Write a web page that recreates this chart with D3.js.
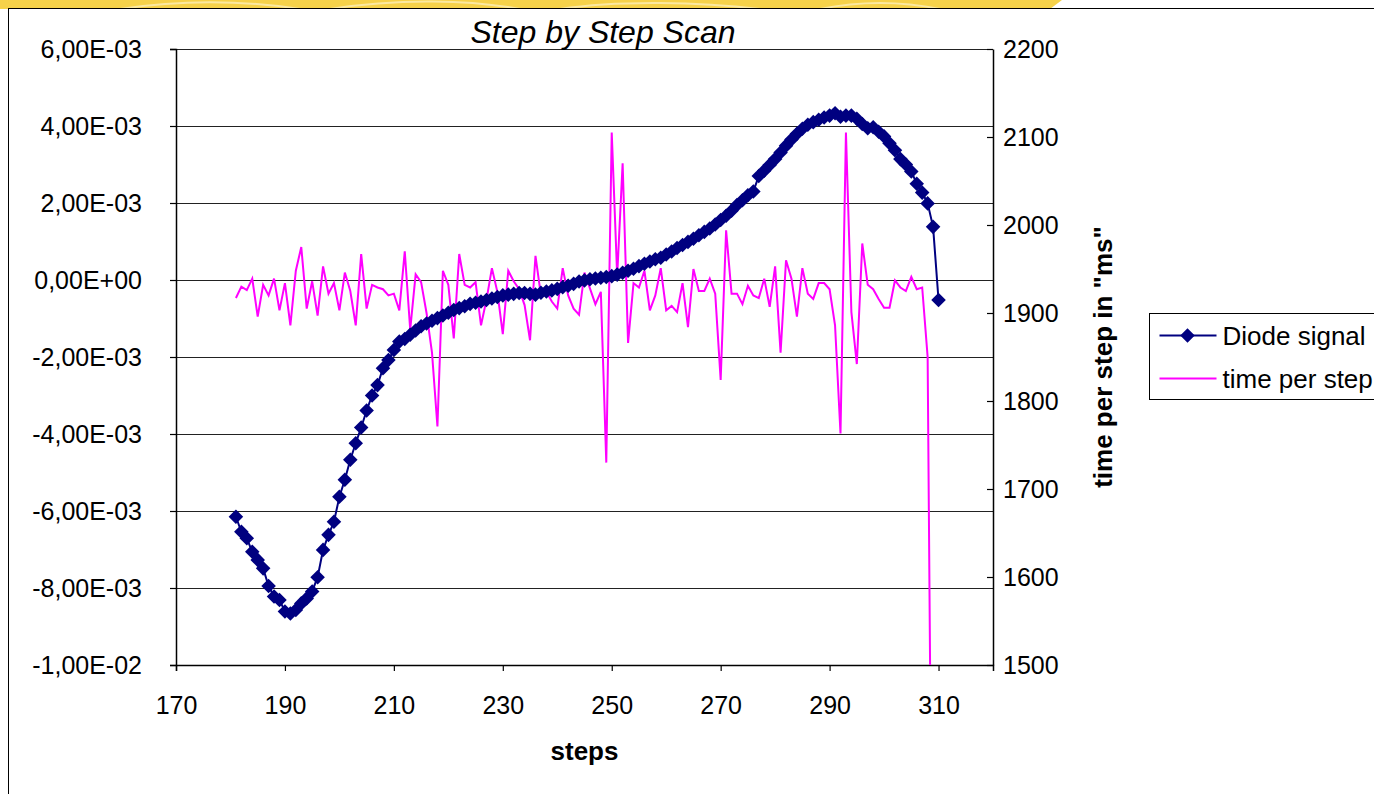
<!DOCTYPE html>
<html>
<head>
<meta charset="utf-8">
<script src="https://cdn.jsdelivr.net/npm/d3@7/dist/d3.min.js"></script>
<style>
  body { margin: 0; background: #fff; overflow: hidden; }
  text { font-family: Arial, "Liberation Sans", sans-serif; fill: #000; }
</style>
</head>
<body>
<div id="chart"></div>
<script>
// steps on the x axis
const steps = d3.range(181, 311);

// Diode signal, in units of 1E-03 (left axis)
const diodeSignal = [
  -6.15, -6.54, -6.71, -7.06, -7.27, -7.49, -7.95, -8.22, -8.31, -8.61,
  -8.66, -8.57, -8.40, -8.27, -8.09, -7.72, -7.01, -6.62, -6.28, -5.63,
  -5.19, -4.67, -4.24, -3.83, -3.39, -3.00, -2.73, -2.29, -2.08, -1.82,
  -1.60, -1.53, -1.42, -1.31, -1.20, -1.13, -1.06, -0.99, -0.92, -0.85,
  -0.78, -0.73, -0.68, -0.62, -0.59, -0.56, -0.52, -0.48, -0.44, -0.40,
  -0.38, -0.36, -0.34, -0.34, -0.36, -0.38, -0.33, -0.30, -0.27, -0.23,
  -0.19, -0.15, -0.10, -0.04, -0.01, 0.02, 0.04, 0.06, 0.08, 0.10,
  0.14, 0.19, 0.24, 0.29, 0.36, 0.42, 0.48, 0.54, 0.58, 0.66,
  0.74, 0.83, 0.91, 0.99, 1.07, 1.16, 1.25, 1.34, 1.44, 1.56,
  1.67, 1.80, 1.95, 2.07, 2.20, 2.30, 2.70, 2.84, 2.99, 3.14,
  3.31, 3.49, 3.65, 3.80, 3.93, 4.03, 4.10, 4.16, 4.22, 4.27,
  4.33, 4.24, 4.27, 4.27, 4.19, 4.05, 3.94, 3.97, 3.85, 3.73,
  3.55, 3.37, 3.14, 3.00, 2.82, 2.50, 2.27, 1.99, 1.38, -0.52
];
const diodeUnit = 1e-3;

// time per step in ms (right axis), steps 181..309
const timePerStep = [
  1917, 1930, 1926, 1939, 1896, 1932, 1920, 1939, 1903, 1934,
  1886, 1948, 1975, 1905, 1936, 1897, 1953, 1922, 1934, 1903,
  1946, 1925, 1886, 1967, 1905, 1932, 1929, 1927, 1920, 1922,
  1903, 1970, 1881, 1944, 1935, 1900, 1855, 1771, 1948, 1932,
  1871, 1967, 1932, 1929, 1935, 1886, 1915, 1951, 1924, 1876,
  1948, 1936, 1927, 1909, 1869, 1965, 1920, 1924, 1913, 1905,
  1951, 1920, 1905, 1898, 1946, 1928, 1910, 1924, 1730, 2105,
  1942, 2070, 1866, 1934, 1929, 1948, 1903, 1920, 1951, 1903,
  1908, 1901, 1934, 1884, 1950, 1925, 1925, 1939, 1922, 1824,
  1994, 1922, 1922, 1910, 1931, 1920, 1917, 1939, 1907, 1953,
  1855, 1960, 1939, 1896, 1951, 1922, 1916, 1934, 1934, 1927,
  1886, 1763, 2105, 1901, 1842, 1979, 1932, 1927, 1916, 1906,
  1906, 1937, 1929, 1925, 1941, 1927, 1929, 1850, 1070
];

// axis ticks
const xTicks = [170, 190, 210, 230, 250, 270, 290, 310];
const xEndTick = 320;
const leftTicks = [-0.010, -0.008, -0.006, -0.004, -0.002, 0, 0.002, 0.004, 0.006];
const rightTicks = [1500, 1600, 1700, 1800, 1900, 2000, 2100, 2200];
const seriesNames = ['Diode signal', 'time per step'];

const navy = '#000080';
const magenta = '#FF00FF';

const W = 1374, H = 794;
const plot = { left: 176, right: 993, top: 49, bottom: 665 };

const svg = d3.select('#chart').append('svg')
  .attr('width', W)
  .attr('height', H);

// yellow banner peeking in at the top
const banner = svg.append('g');
banner.append('path')
  .attr('d', 'M0,0 L1062,0 L1050,9 L0,9 Z')
  .attr('fill', '#F6D24A');
banner.append('path')
  .attr('d', 'M120,9 C180,0 240,0 300,9 M330,9 C400,-2 470,0 520,9 M560,9 C620,0 700,2 760,9 M820,9 C860,1 900,1 940,9')
  .attr('fill', 'none')
  .attr('stroke', '#FBE9A0')
  .attr('stroke-width', 2);

// chart area border
svg.append('rect')
  .attr('x', 8.5).attr('y', 8.5)
  .attr('width', W).attr('height', H)
  .attr('fill', '#fff')
  .attr('stroke', '#000')
  .attr('stroke-width', 1);

// scales
const x = d3.scaleLinear().domain([170, 320]).range([plot.left, plot.right]);
const yLeft = d3.scaleLinear().domain([-0.01, 0.006]).range([plot.bottom, plot.top]);
const yRight = d3.scaleLinear().domain([1500, 2200]).range([plot.bottom, plot.top]);

function sciComma(v) {
  if (Math.abs(v) < 1e-12) return '0,00E+00';
  const [m, e] = v.toExponential(2).split('e');
  const exp = parseInt(e, 10);
  const sign = exp < 0 ? '-' : '+';
  return m.replace('.', ',') + 'E' + sign + String(Math.abs(exp)).padStart(2, '0');
}

// gridlines
svg.append('g')
  .selectAll('line')
  .data(leftTicks)
  .enter()
  .append('line')
  .attr('x1', plot.left)
  .attr('x2', plot.right)
  .attr('y1', d => Math.round(yLeft(d)) + 0.5)
  .attr('y2', d => Math.round(yLeft(d)) + 0.5)
  .attr('stroke', '#222')
  .attr('stroke-width', 1.2);

const tickFont = '25px';

// left axis
const leftAxis = svg.append('g')
  .attr('transform', `translate(${plot.left},0)`)
  .call(d3.axisLeft(yLeft).tickValues(leftTicks).tickFormat(sciComma).tickSize(6).tickPadding(28));

// right axis (ticks point inward)
const rightAxis = svg.append('g')
  .attr('transform', `translate(${plot.right},0)`)
  .call(d3.axisRight(yRight).tickValues(rightTicks).tickFormat(d3.format('d')).tickSize(0).tickPadding(10));
rightAxis.selectAll('.tick').append('line')
  .attr('x1', -6).attr('x2', 0)
  .attr('stroke', '#000');

// bottom axis
const bottomAxis = svg.append('g')
  .attr('transform', `translate(0,${plot.bottom})`)
  .call(d3.axisBottom(x).tickValues(xTicks.concat([xEndTick])).tickFormat(d => xTicks.includes(d) ? d : '').tickSize(6).tickPadding(25));

[leftAxis, rightAxis, bottomAxis].forEach(ax => {
  ax.select('.domain').attr('stroke', '#000').attr('stroke-width', 1.5);
  ax.selectAll('.tick line').attr('stroke', '#000').attr('stroke-width', 1.2);
  ax.selectAll('.tick text')
    .style('font-size', tickFont)
    .style('font-family', 'Arial, "Liberation Sans", sans-serif')
    .attr('fill', '#000');
});
bottomAxis.select('.tick:last-of-type line').attr('y2', 0);

// clip for series
svg.append('clipPath').attr('id', 'plotClip')
  .append('rect')
  .attr('x', plot.left).attr('y', plot.top)
  .attr('width', plot.right - plot.left)
  .attr('height', plot.bottom - plot.top);

// time per step line
const timeLine = d3.line()
  .x((d, i) => x(steps[i]))
  .y(d => yRight(d));
svg.append('path')
  .datum(timePerStep)
  .attr('clip-path', 'url(#plotClip)')
  .attr('d', timeLine)
  .attr('fill', 'none')
  .attr('stroke', magenta)
  .attr('stroke-width', 2);

// diode signal line + diamond markers
const diodeLine = d3.line()
  .x((d, i) => x(steps[i]))
  .y(d => yLeft(d * diodeUnit));
svg.append('path')
  .datum(diodeSignal)
  .attr('d', diodeLine)
  .attr('fill', 'none')
  .attr('stroke', navy)
  .attr('stroke-width', 2);

const diamond = d3.symbol().type(d3.symbolDiamond2).size(135);
svg.append('g')
  .selectAll('path')
  .data(diodeSignal)
  .enter()
  .append('path')
  .attr('d', diamond)
  .attr('transform', (d, i) => `translate(${x(steps[i])},${yLeft(d * diodeUnit)})`)
  .attr('fill', navy);

// title and axis titles
svg.append('text')
  .attr('x', 603)
  .attr('y', 43)
  .attr('text-anchor', 'middle')
  .style('font-size', '32px')
  .style('font-style', 'italic')
  .text('Step by Step Scan');

svg.append('text')
  .attr('x', (plot.left + plot.right) / 2)
  .attr('y', 760)
  .attr('text-anchor', 'middle')
  .style('font-size', '26px')
  .style('font-weight', 'bold')
  .text('steps');

svg.append('text')
  .attr('transform', `translate(1112,${(plot.top + plot.bottom) / 2}) rotate(-90)`)
  .attr('text-anchor', 'middle')
  .style('font-size', '26px')
  .style('font-weight', 'bold')
  .text('time per step in "ms"');

// legend
const legend = svg.append('g').attr('transform', 'translate(1149.5,313.5)');
legend.append('rect')
  .attr('width', 300).attr('height', 86)
  .attr('fill', '#fff')
  .attr('stroke', '#000')
  .attr('stroke-width', 1);
const items = legend.selectAll('.legend-item')
  .data(seriesNames)
  .enter()
  .append('g')
  .attr('class', 'legend-item')
  .attr('transform', (d, i) => `translate(0,${22 + i * 43})`);
items.append('line')
  .attr('x1', 10).attr('x2', 67)
  .attr('stroke', (d, i) => i === 0 ? navy : magenta)
  .attr('stroke-width', 2);
items.filter((d, i) => i === 0).append('path')
  .attr('d', diamond)
  .attr('transform', 'translate(38,0)')
  .attr('fill', navy);
items.append('text')
  .attr('x', 73)
  .attr('y', 9)
  .style('font-size', '26px')
  .text(d => d);
</script>
</body>
</html>
